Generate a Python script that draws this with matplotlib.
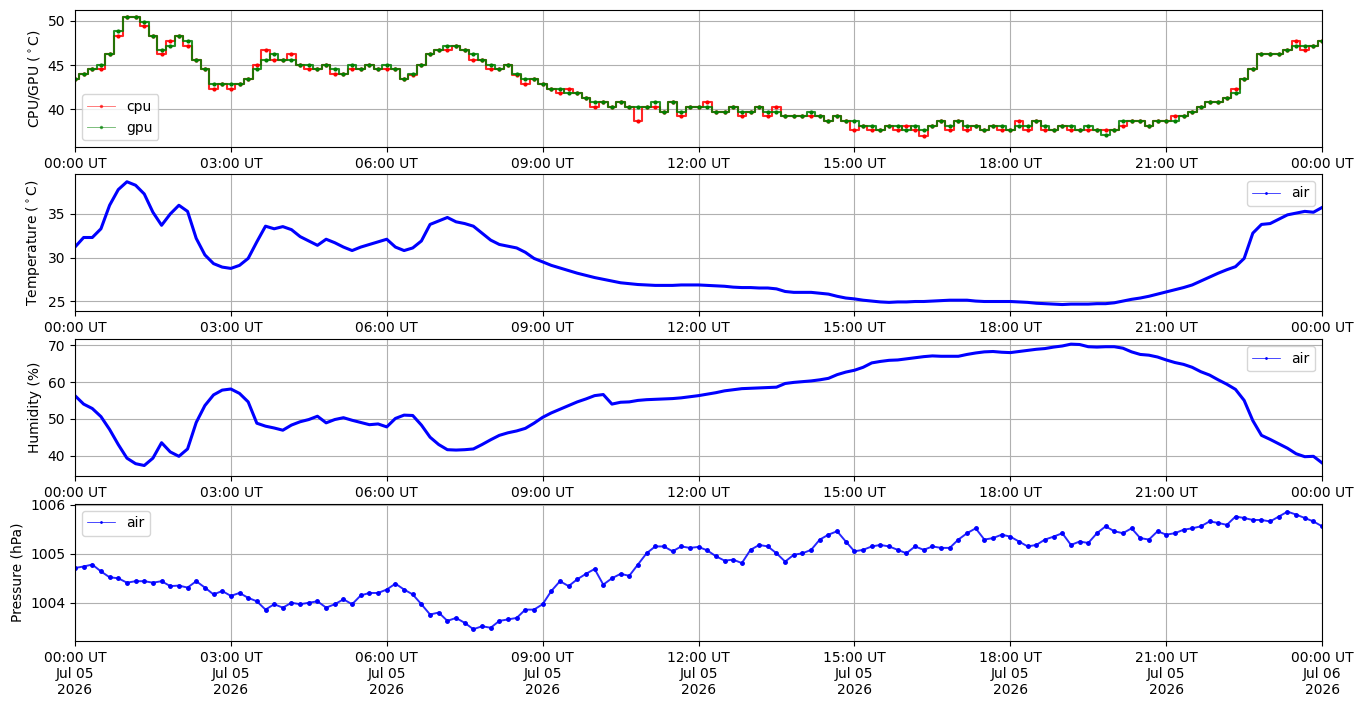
import numpy as np
import pandas as pd
import matplotlib
matplotlib.use("Agg")
import matplotlib.pyplot as plt
import matplotlib.dates as mdates
from matplotlib.ticker import MultipleLocator

# time axis: one reading every 10 minutes, 2026-07-05 00:00 .. 2026-07-06 00:00
times = pd.date_range("2026-07-05 00:00", "2026-07-06 00:00", freq="10min")

gpu = [43.4, 44.0, 44.5, 45.0, 46.2, 48.9,
       50.4, 50.4, 49.9, 48.3, 46.7, 47.2,
       48.3, 47.7, 45.6, 44.5, 42.9, 42.9,
       42.9, 42.9, 43.4, 44.5, 45.6, 46.2,
       45.6, 45.6, 45.0, 45.0, 44.5, 45.0,
       44.5, 44.0, 45.0, 44.5, 45.0, 44.5,
       45.0, 44.5, 43.4, 44.0, 45.0, 46.2,
       46.7, 47.2, 47.2, 46.7, 46.2, 45.6,
       45.0, 44.5, 45.0, 44.0, 43.4, 43.4,
       42.9, 42.3, 42.3, 41.8, 41.8, 41.3,
       40.8, 40.8, 40.2, 40.8, 40.2, 40.2,
       40.2, 40.8, 39.7, 40.8, 39.7, 40.2,
       40.2, 40.2, 39.7, 39.7, 40.2, 39.7,
       39.7, 40.2, 39.7, 39.7, 39.2, 39.2,
       39.2, 39.7, 39.2, 38.6, 39.2, 38.6,
       38.6, 38.1, 38.1, 37.6, 38.1, 38.1,
       37.6, 38.1, 37.6, 38.1, 38.6, 38.1,
       38.6, 38.1, 38.1, 37.6, 38.1, 38.1,
       37.6, 38.1, 38.1, 38.6, 38.1, 37.6,
       38.1, 38.1, 37.6, 38.1, 37.6, 37.1,
       37.6, 38.6, 38.6, 38.6, 38.1, 38.6,
       38.6, 38.6, 39.2, 39.7, 40.2, 40.8,
       40.8, 41.3, 41.8, 43.4, 44.5, 46.2,
       46.2, 46.2, 46.7, 47.2, 47.2, 47.2,
       47.7]

cpu = [43.4, 44.0, 44.5, 44.5, 46.2, 48.3,
       50.4, 50.4, 49.4, 48.3, 46.2, 47.7,
       48.3, 47.2, 45.6, 44.5, 42.3, 42.9,
       42.3, 42.9, 43.4, 45.0, 46.7, 45.6,
       45.6, 46.2, 45.0, 44.5, 44.5, 45.0,
       44.0, 44.0, 44.5, 44.5, 45.0, 44.5,
       44.5, 44.5, 43.4, 43.9, 45.0, 46.2,
       46.7, 46.7, 47.2, 46.7, 45.6, 45.6,
       44.5, 44.5, 45.0, 43.9, 42.9, 43.4,
       42.9, 42.3, 41.8, 42.3, 41.8, 41.3,
       40.2, 40.8, 40.2, 40.8, 40.2, 38.6,
       40.2, 40.2, 39.7, 40.8, 39.2, 40.2,
       40.2, 40.8, 39.7, 39.7, 40.2, 39.2,
       39.7, 40.2, 39.2, 40.2, 39.2, 39.2,
       39.2, 39.2, 39.2, 38.6, 39.2, 38.6,
       37.6, 38.1, 37.6, 37.6, 38.1, 37.6,
       38.1, 37.6, 37.0, 38.1, 38.6, 37.6,
       38.6, 37.6, 38.1, 37.6, 38.1, 37.6,
       37.6, 38.6, 37.6, 38.6, 37.6, 37.6,
       38.1, 37.6, 37.6, 37.6, 37.6, 37.6,
       37.6, 38.1, 38.6, 38.6, 38.1, 38.6,
       38.6, 39.2, 39.2, 39.7, 40.2, 40.8,
       40.8, 41.3, 42.3, 43.4, 44.5, 46.2,
       46.2, 46.2, 46.7, 47.7, 46.7, 47.2,
       47.7]

air_temp = [31.2, 32.3, 32.3, 33.3, 36.0, 37.8,
            38.7, 38.3, 37.3, 35.2, 33.7, 35.0,
            36.0, 35.3, 32.2, 30.3, 29.3, 28.9,
            28.75, 29.1, 29.9, 31.8, 33.6, 33.3,
            33.55, 33.2, 32.4, 31.9, 31.4, 32.1,
            31.7, 31.2, 30.8, 31.2, 31.5, 31.8,
            32.1, 31.2, 30.8, 31.1, 31.9, 33.8,
            34.2, 34.6, 34.1, 33.9, 33.6, 32.8,
            32.0, 31.5, 31.3, 31.1, 30.6, 29.9,
            29.5, 29.1, 28.8, 28.5, 28.2, 27.95,
            27.7, 27.5, 27.3, 27.1, 27.0, 26.9,
            26.85, 26.8, 26.8, 26.8, 26.85, 26.85,
            26.85, 26.8, 26.75, 26.7, 26.6, 26.55,
            26.55, 26.5, 26.5, 26.4, 26.1, 26.0,
            26.0, 26.0, 25.9, 25.8, 25.55, 25.35,
            25.25, 25.1, 25.0, 24.9, 24.85, 24.9,
            24.9, 24.95, 24.95, 25.0, 25.05, 25.1,
            25.1, 25.1, 25.0, 24.95, 24.95, 24.95,
            24.95, 24.9, 24.85, 24.75, 24.7, 24.65,
            24.6, 24.65, 24.65, 24.65, 24.7, 24.7,
            24.8, 25.0, 25.2, 25.35, 25.55, 25.8,
            26.05, 26.3, 26.55, 26.85, 27.3, 27.75,
            28.2, 28.6, 28.95, 29.9, 32.8, 33.8,
            33.9, 34.4, 34.9, 35.1, 35.3, 35.2,
            35.75]

humidity = [56.3, 54.0, 52.8, 50.6, 47.1, 43.0,
            39.3, 37.8, 37.3, 39.3, 43.5, 41.0,
            39.8, 41.8, 49.0, 53.6, 56.5, 57.8,
            58.1, 56.9, 54.6, 48.8, 48.0, 47.5,
            46.9, 48.3, 49.2, 49.8, 50.7, 48.9,
            49.8, 50.3, 49.6, 49.0, 48.4, 48.6,
            47.8, 50.1, 51.0, 50.9, 48.3, 45.0,
            43.0, 41.6, 41.5, 41.6, 41.8, 43.0,
            44.3, 45.5, 46.2, 46.7, 47.4, 48.8,
            50.4, 51.6, 52.6, 53.6, 54.6, 55.4,
            56.3, 56.6, 54.0, 54.5, 54.6, 55.0,
            55.2, 55.3, 55.4, 55.5, 55.7, 56.0,
            56.3, 56.7, 57.1, 57.6, 57.9, 58.2,
            58.3, 58.4, 58.5, 58.6, 59.6, 59.9,
            60.1, 60.3, 60.6, 61.0, 62.0, 62.7,
            63.2, 64.0, 65.2, 65.6, 65.9, 66.0,
            66.3, 66.6, 66.9, 67.1, 67.0, 67.0,
            67.0, 67.5, 67.9, 68.2, 68.3, 68.1,
            68.0, 68.3, 68.6, 68.9, 69.1, 69.5,
            69.8, 70.3, 70.2, 69.6, 69.5, 69.6,
            69.6, 69.2, 68.2, 67.5, 67.3, 66.8,
            66.0, 65.3, 64.8, 64.0, 62.8, 61.9,
            60.6, 59.4, 58.0, 55.0, 49.5, 45.5,
            44.4, 43.2, 42.0, 40.5, 39.7, 39.8,
            38.0]

pressure = [1004.71, 1004.74, 1004.78, 1004.64, 1004.52, 1004.50,
            1004.41, 1004.44, 1004.44, 1004.41, 1004.44, 1004.34,
            1004.35, 1004.31, 1004.44, 1004.31, 1004.17, 1004.24,
            1004.14, 1004.20, 1004.10, 1004.03, 1003.86, 1003.97,
            1003.90, 1004.00, 1003.97, 1004.00, 1004.03, 1003.90,
            1003.97, 1004.07, 1003.97, 1004.15, 1004.20, 1004.20,
            1004.27, 1004.39, 1004.27, 1004.17, 1003.97, 1003.76,
            1003.80, 1003.63, 1003.69, 1003.59, 1003.46, 1003.52,
            1003.49, 1003.63, 1003.66, 1003.69, 1003.86, 1003.86,
            1003.97, 1004.24, 1004.44, 1004.34, 1004.48, 1004.59,
            1004.69, 1004.37, 1004.50, 1004.59, 1004.55, 1004.78,
            1005.01, 1005.15, 1005.15, 1005.05, 1005.15, 1005.12,
            1005.14, 1005.07, 1004.95, 1004.86, 1004.88, 1004.81,
            1005.08, 1005.18, 1005.15, 1005.01, 1004.84, 1004.98,
            1005.01, 1005.08, 1005.29, 1005.39, 1005.46, 1005.25,
            1005.05, 1005.08, 1005.15, 1005.18, 1005.15, 1005.08,
            1005.01, 1005.15, 1005.08, 1005.15, 1005.12, 1005.12,
            1005.29, 1005.42, 1005.52, 1005.29, 1005.32, 1005.39,
            1005.35, 1005.25, 1005.15, 1005.18, 1005.29, 1005.35,
            1005.42, 1005.18, 1005.25, 1005.22, 1005.42, 1005.56,
            1005.46, 1005.42, 1005.52, 1005.32, 1005.29, 1005.46,
            1005.39, 1005.42, 1005.49, 1005.52, 1005.56, 1005.66,
            1005.63, 1005.59, 1005.76, 1005.73, 1005.69, 1005.69,
            1005.66, 1005.76, 1005.86, 1005.80, 1005.73, 1005.66,
            1005.56]

fig = plt.figure(figsize=(13.63, 7.07), dpi=100)
left, width = 0.055, 0.915
ax1 = fig.add_axes([left, 0.792, width, 0.194])
ax2 = fig.add_axes([left, 0.560, width, 0.194])
ax3 = fig.add_axes([left, 0.327, width, 0.193])
ax4 = fig.add_axes([left, 0.0934, width, 0.194])

# CPU / GPU: plateaus drawn as steps, dots on every reading
for vals, col, name in ((cpu, "red", "cpu"), (gpu, "green", "gpu")):
    ax1.plot(times, vals, color=col, lw=1.5, drawstyle="steps-mid", alpha=0.85)
    ax1.plot(times, vals, color=col, ls="none", marker=".", ms=4)
    ax1.plot([], [], color=col, lw=0.6, alpha=0.6, marker=".", ms=3, label=name)
ax1.set_ylim(35.7, 51.25)
ax1.set_ylabel("CPU/GPU ($^\\circ$C)")
ax1.legend(loc="lower left")

# air temperature
ax2.plot(times, air_temp, color="blue", lw=2.2)
ax2.plot([], [], color="blue", lw=0.5, marker=".", ms=2, label="air")
ax2.set_ylim(23.85, 39.6)
ax2.set_ylabel("Temperature ($^\\circ$C)")
ax2.legend(loc="upper right")

# humidity
ax3.plot(times, humidity, color="blue", lw=2.2)
ax3.plot([], [], color="blue", lw=0.5, marker=".", ms=2, label="air")
ax3.set_ylim(34.5, 71.6)
ax3.set_ylabel("Humidity (%)")
ax3.legend(loc="upper right")

# pressure
ax4.plot(times, pressure, color="blue", lw=1.4, alpha=0.85)
ax4.plot(times, pressure, color="blue", ls="none", marker=".", ms=5)
ax4.plot([], [], color="blue", lw=0.5, marker=".", ms=2, label="air")
ax4.set_ylim(1003.22, 1006.02)
ax4.yaxis.set_major_locator(MultipleLocator(1))
ax4.ticklabel_format(axis="y", useOffset=False)
ax4.set_ylabel("Pressure (hPa)")
ax4.legend(loc="upper left")

for ax in (ax1, ax2, ax3, ax4):
    ax.set_xlim(times[0], times[-1])
    ax.xaxis.set_major_locator(mdates.HourLocator(byhour=range(0, 24, 3)))
    ax.xaxis.set_major_formatter(mdates.DateFormatter("%H:%M UT"))
    ax.grid(True)
ax4.xaxis.set_major_formatter(mdates.DateFormatter("%H:%M UT\n%b %d\n%Y"))

fig.savefig("out.png", dpi=100)
